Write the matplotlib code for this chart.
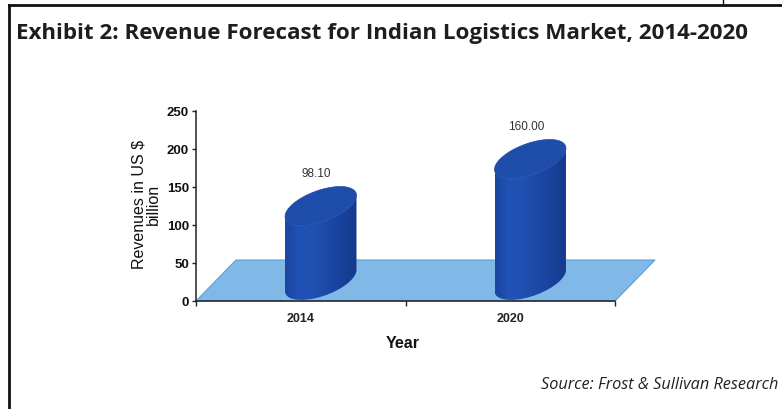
import numpy as np
import matplotlib
matplotlib.use("Agg")
import matplotlib.pyplot as plt
from matplotlib.patches import Polygon
from matplotlib.colors import LinearSegmentedColormap

years = ['2014', '2020']
revenue = [98.10, 160.00]
y_ticks = [0, 50, 100, 150, 200, 250]

W, H = 782, 409
fig = plt.figure(figsize=(W / 100, H / 100), dpi=100)

# plot area in pixels: x 196..615, value 0 at y=301, 250 at y=111
ax = fig.add_axes([196 / W, (H - 301) / H, 419 / W, 190 / H])
ax.patch.set_visible(False)

px_x = 419 / len(years)   # pixels per category
px_y = 190 / 250          # pixels per value unit

# depth of the 3-D floor, in data units
DX = 40 / px_x
DY = 41 / px_y
# cylinder radius and projected depth radius
R = 30 / px_x
QX = 19.4 / px_x
QY = 19.4 / px_y

floor = Polygon([(0, 0), (len(years), 0), (len(years) + DX, DY), (DX, DY)],
                closed=True, facecolor='#80b9e8', edgecolor='#5d9fd8',
                linewidth=0.8, clip_on=False, zorder=1)
ax.add_patch(floor)

shade = LinearSegmentedColormap.from_list(
    'cyl', ['#1a469f', '#2152b6', '#2050b2', '#1c49a6', '#18419a', '#153a8c'])


def cylinder(xc, v):
    cx = xc + 0.5 * DX
    y0 = 0.5 * DY
    y1 = y0 + v
    a = np.arctan2(QX, R)
    t = np.linspace(np.pi + a, 2 * np.pi + a, 100)
    ex = R * np.cos(t) + QX * np.sin(t)
    ey = QY * np.sin(t)
    side = np.vstack([np.column_stack([cx + ex, y0 + ey]),
                      np.column_stack([cx + ex[::-1], y1 + ey[::-1]])])
    body = Polygon(side, closed=True, facecolor='none', edgecolor='none',
                   zorder=3)
    ax.add_patch(body)
    grad = np.linspace(0, 1, 256).reshape(1, -1)
    img = ax.imshow(grad, cmap=shade, aspect='auto', interpolation='bicubic',
                    extent=[cx + ex.min(), cx + ex.max(), 0, y1 + QY],
                    origin='lower', zorder=3)
    img.set_clip_path(body)
    tt = np.linspace(0, 2 * np.pi, 120)
    top = np.column_stack([cx + R * np.cos(tt) + QX * np.sin(tt),
                           y1 + QY * np.sin(tt)])
    ax.add_patch(Polygon(top, closed=True, facecolor='#1f4dac',
                         edgecolor='#1d4aa6', linewidth=0.5, zorder=4))
    return cx, y1 + QY


for i, v in enumerate(revenue):
    tx, ty = cylinder(i + 0.5, v)
    ax.text(tx - 0.02, ty + 9, f'{v:.2f}', ha='center', va='bottom',
            fontsize=8.5, family='Liberation Sans', color='#333333', zorder=5)

ax.set_xlim(0, len(years))
ax.set_ylim(0, 250)

for side in ['top', 'right']:
    ax.spines[side].set_visible(False)
for side in ['left', 'bottom']:
    ax.spines[side].set_color('#222222')
    ax.spines[side].set_linewidth(1.1)
    ax.spines[side].set_zorder(2)

ax.set_yticks(y_ticks)
ax.set_yticklabels([str(t) for t in y_ticks], fontsize=9.5, fontweight='bold',
                   family='Liberation Sans', color='#111111')
ax.set_xticks(range(len(years) + 1))
ax.set_xticklabels([])
ax.set_xticks([i + 0.5 for i in range(len(years))], minor=True)
ax.set_xticklabels(years, minor=True, fontsize=9, fontweight='bold',
                   family='Liberation Sans', color='#222222')
ax.tick_params(axis='x', which='minor', length=0, pad=9)
ax.tick_params(axis='x', which='major', length=3.5, width=1, color='#222222')
ax.tick_params(axis='y', length=3, width=1, color='#222222', pad=2)

fig.text(403 / W, 1 - 343 / H, 'Year', ha='center', va='center',
         fontsize=11.5, fontweight='bold', family='Liberation Sans',
         color='#111111')
fig.text(146 / W, 1 - 204 / H, 'Revenues in US $\nbillion', rotation=90,
         ha='center', va='center', multialignment='center', fontsize=11.5,
         family='Liberation Sans', color='#111111', linespacing=0.95)


def fit_text(x, y, s, width_px, size, **kw):
    # scale font size so the text spans the given width
    t = fig.text(x, y, s, fontsize=size, **kw)
    r = fig.canvas.get_renderer()
    w = t.get_window_extent(renderer=r).width
    t.set_fontsize(size * width_px / w)
    return t


fit_text(16 / W, 1 - 33 / H,
         'Exhibit 2: Revenue Forecast for Indian Logistics Market, 2014-2020',
         734, 15, ha='left', va='center', fontweight='bold',
         family='Open Sans', color='#1e1e1e')
fit_text(541 / W, 1 - 385 / H, 'Source: Frost & Sullivan Research',
         236, 11, ha='left', va='center', style='italic', family='Open Sans',
         color='#222222')

# frame lines around the exhibit
fig.add_artist(plt.Line2D([9 / W, 9 / W], [0, 1 - 5 / H], color='#111111',
                          linewidth=2, transform=fig.transFigure))
fig.add_artist(plt.Line2D([9 / W, 1], [1 - 5 / H, 1 - 5 / H], color='#111111',
                          linewidth=2, transform=fig.transFigure))
fig.add_artist(plt.Line2D([723 / W, 723 / W], [1 - 5 / H, 1], color='#111111',
                          linewidth=1, transform=fig.transFigure))

fig.savefig('out.png', dpi=100)
